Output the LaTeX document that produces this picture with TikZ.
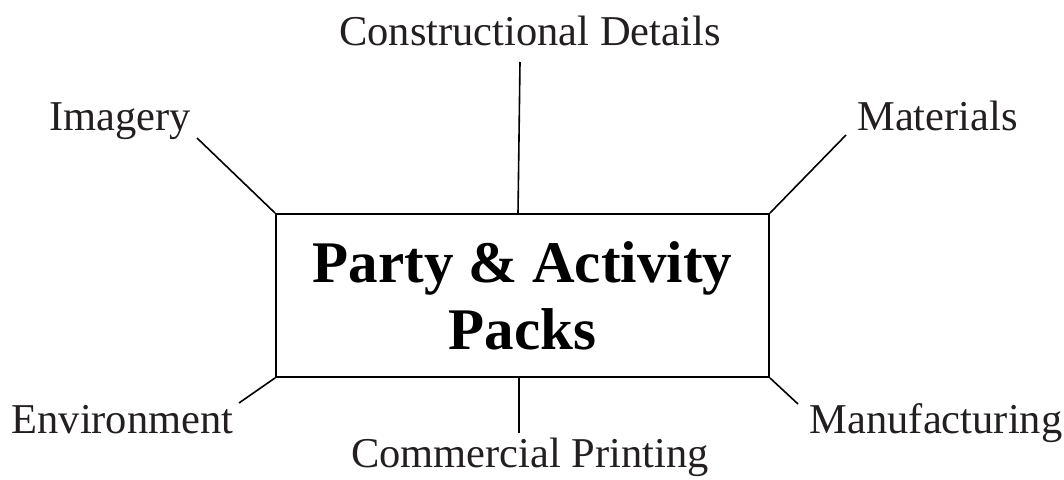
\documentclass[tikz,border=0pt]{standalone}
\usepackage{fontspec}
\setmainfont{Liberation Serif}
\definecolor{labelgray}{RGB}{35,31,32}
\begin{document}
\begin{tikzpicture}[x=1pt,y=-1pt,
  lbl/.style={inner sep=0pt, anchor=base, text=labelgray, font=\fontsize{42.5}{50}\selectfont},
  conn/.style={draw=black, line width=1.6pt},
  mainbox/.style={draw=black, line width=1.8pt, minimum width=493pt, minimum height=163pt,
     inner sep=0pt, align=center, font=\fontsize{59}{67}\selectfont\bfseries}]
\useasboundingbox (0,0) rectangle (1064,479);
\node[mainbox] (box) at (522.5,295.5) {Party \& Activity\\Packs};
\node[lbl] (cons) at (530,45) {Constructional Details};
\node[lbl] (imag) at (120,130) {Imagery};
\node[lbl] (mat) at (937.5,130) {Materials};
\node[lbl] (env) at (122.5,433) {Environment};
\node[lbl] (man) at (936,433) {Manufacturing};
\node[lbl] (com) at (530,467) {Commercial Printing};
\coordinate (consEnd) at (520,62);
\coordinate (consStart) at (518,213);
\coordinate (imagEnd) at (197,138);
\coordinate (matEnd) at (846,135);
\coordinate (envEnd) at (239,403);
\coordinate (comStart) at (519,378);
\coordinate (comEnd) at (519,433);
\coordinate (manEnd) at (798,404);
\draw[conn] (consStart) -- (consEnd);
\draw[conn] (box.north west) -- (imagEnd);
\draw[conn] (box.north east) -- (matEnd);
\draw[conn] (box.south west) -- (envEnd);
\draw[conn] (comStart) -- (comEnd);
\draw[conn] (box.south east) -- (manEnd);
\end{tikzpicture}
\end{document}
